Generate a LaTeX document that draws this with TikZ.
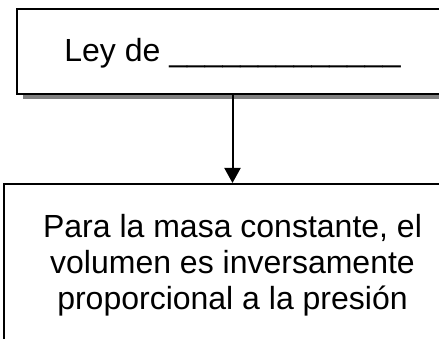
\documentclass[tikz,border=0pt]{standalone}
\usepackage{fontspec}
\setmainfont{Liberation Sans}
\usetikzlibrary{arrows.meta,shadows}
\begin{document}
\begin{tikzpicture}[x=1pt,y=-1pt,
  boxstyle/.style={draw=black, line width=1.6pt, fill=white, rectangle,
    font=\fontsize{32}{36}\selectfont, align=center},
  shadowbox/.style={general shadow={shadow xshift=6pt, shadow yshift=-5pt, fill=black!50}},
  conn/.style={line width=2pt, -{Triangle[length=15pt,width=16pt]}}]
\useasboundingbox (0,0) rectangle (439,339);
\clip (0,0) rectangle (439,339);
\node[boxstyle, shadowbox, minimum width=431pt, minimum height=84.5pt,
      text height=23pt, text depth=2pt, inner ysep=0pt, anchor=base]
  (top) at (232.5,62) {Ley de \_\_\_\_\_\_\_\_\_\_\_\_\_};
\node[boxstyle, minimum width=457pt, inner ysep=31pt, anchor=north]
  (bot) at (232.5,183) {Para la masa constante, el\\volumen es inversamente\\proporcional a la presión};
\draw[conn] (top.south) -- (bot.north);
\end{tikzpicture}
\end{document}
